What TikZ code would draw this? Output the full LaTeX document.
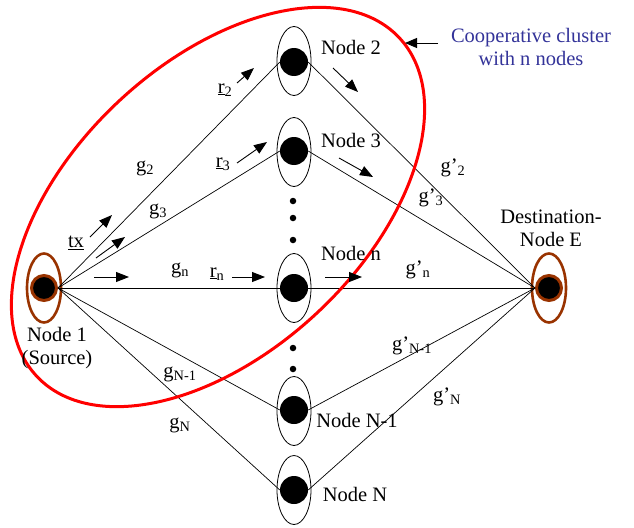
\documentclass[tikz,border=0pt]{standalone}
\usepackage{fontspec}
\setmainfont{Liberation Serif}
\usetikzlibrary{arrows.meta,shapes.geometric}
\definecolor{brn}{RGB}{153,51,0}
\definecolor{clu}{RGB}{51,51,153}
\begin{document}
\begin{tikzpicture}[x=1pt,y=-1pt,
  lbl/.style={font=\fontsize{20.5}{23}\selectfont, inner sep=0pt},
  relay/.style={circle, fill=black, minimum size=28pt, inner sep=0pt},
  shell/.style={ellipse, draw, line width=0.8pt, minimum width=34pt, minimum height=69pt, inner sep=0pt},
  endpt/.style={circle, fill=black, draw=brn, line width=3pt, minimum size=25pt, inner sep=0pt},
  endshell/.style={ellipse, draw=brn, line width=2.6pt, minimum width=34pt, minimum height=69pt, inner sep=0pt},
  link/.style={line width=0.7pt},
  flow/.style={line width=0.9pt, -{Triangle[length=13pt,width=10pt]}},
  dotn/.style={circle, fill=black, minimum size=6.5pt, inner sep=0pt}
]
\useasboundingbox (0,0) rectangle (634,527);

% end points
\node[endshell] (srcS) at (44,288) {};
\node[endpt] (src) at (44,288) {};
\node[endshell] (dstS) at (549,288) {};
\node[endpt] (dst) at (549,288) {};

% relays
\node[shell] (s2) at (294,61) {};
\node[relay] (n2) at (294,62) {};
\node[shell] (s3) at (294,152) {};
\node[relay] (n3) at (294,151) {};
\node[shell] (sn) at (294,288) {};
\node[relay] (nn) at (294,288) {};
\node[shell] (sm) at (294,411) {};
\node[relay] (nm) at (294,410) {};
\node[shell] (sN) at (294,490) {};
\node[relay] (nN) at (294,490) {};

% dots
\node[dotn] (d1) at (293,201) {};
\node[dotn] (d2) at (293,218) {};
\node[dotn] (d3) at (293,240) {};
\node[dotn] (d4) at (293,348) {};
\node[dotn] (d5) at (293,369) {};

% links
\foreach \r in {n2,n3,nn,nm,nN}{
  \draw[link] (src.east) -- (\r.west);
  \draw[link] (\r.east) -- (dst.west);
}

% cluster
\draw[red, line width=3pt, rotate around={43:(218,207)}] (218,207) ellipse [x radius=248, y radius=145];

% flow arrows
\draw[flow] (90,237) -- (112,215);
\draw[flow] (96,258) -- (125,237);
\draw[flow] (94,277) -- (129,277);
\draw[flow] (237,83) -- (254,68);
\draw[flow] (237,163) -- (267,142);
\draw[flow] (232,277) -- (265,277);
\draw[flow] (325,277) -- (362,277);
\draw[flow] (333,68) -- (358,92);
\draw[flow] (339,158) -- (373,177);

% labels
\node[lbl] (l2) at (351,47) {Node 2};
\node[lbl] (l3) at (351,140) {Node 3};
\node[lbl] (ln) at (351,253) {Node n};
\node[lbl] (lm) at (357,420) {Node N-1};
\node[lbl] (lN) at (355,494) {Node N};
\node[lbl, align=center] (l1) at (57,348) {Node 1\\(Source)};
\node[lbl, align=center] (lE) at (551,228) {Destination-\\Node E};
\node[lbl, align=center, text=clu] (cl) at (531,47) {Cooperative cluster\\with n nodes};
\coordinate (clA) at (438,43);
\coordinate (clB) at (405,43);
\draw[line width=0.9pt, -{Triangle[length=12pt,width=10pt]}] (clA) -- (clB);

\node[lbl] (g2) at (145,168) {g\textsubscript{2}};
\node[lbl] (g3) at (158,211) {g\textsubscript{3}};
\node[lbl] (gn) at (180,270) {g\textsubscript{n}};
\node[lbl] (gm) at (180,374) {g\textsubscript{N-1}};
\node[lbl] (gN) at (180,425) {g\textsubscript{N}};
\node[lbl] (tx) at (76,243) {\underline{tx}};
\node[lbl] (r2) at (225,90) {\underline{r}\textsubscript{2}};
\node[lbl] (r3) at (223,164) {\underline{r}\textsubscript{3}};
\node[lbl] (rn) at (217,274) {\underline{r}\textsubscript{n}};
\node[lbl] (h2) at (453,168) {g’\textsubscript{2}};
\node[lbl] (h3) at (431,198) {g’\textsubscript{3}};
\node[lbl] (hn) at (418,270) {g’\textsubscript{n}};
\node[lbl] (hm) at (412,346) {g’\textsubscript{N-1}};
\node[lbl] (hN) at (447,397) {g’\textsubscript{N}};
\end{tikzpicture}
\end{document}
